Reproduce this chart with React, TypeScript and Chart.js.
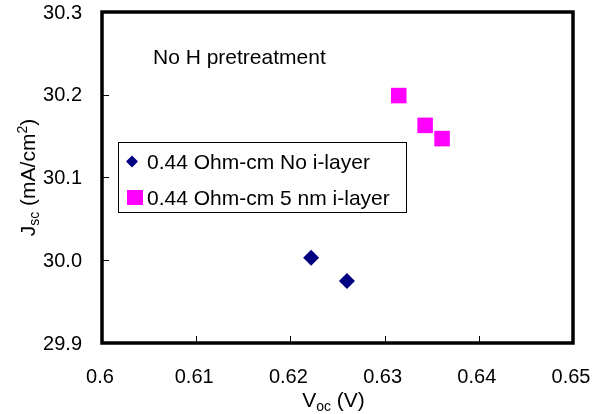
import { useEffect, useRef } from "react";
import { Chart, registerables } from "chart.js";

Chart.register(...registerables);

const seriesNames = ["0.44 Ohm-cm No i-layer", "0.44 Ohm-cm 5 nm i-layer"];
const noILayerVoc = [0.6222, 0.626];
const noILayerJsc = [30.003, 29.975];
const iLayerVoc = [0.6315, 0.6343, 0.6361];
const iLayerJsc = [30.199, 30.163, 30.147];
const xTicks = [0.6, 0.61, 0.62, 0.63, 0.64, 0.65];
const xTickLabels = ["0.6", "0.61", "0.62", "0.63", "0.64", "0.65"];
const yTicks = [29.9, 30.0, 30.1, 30.2, 30.3];
const yTickLabels = ["29.9", "30.0", "30.1", "30.2", "30.3"];
const annotationText = "No H pretreatment";

const FONT = '"Liberation Sans", Arial, sans-serif';
const NAVY = "#000080";
const MAGENTA = "#FF00FF";

function drawDiamond(ctx: CanvasRenderingContext2D, x: number, y: number, r: number, color: string) {
  ctx.beginPath();
  ctx.moveTo(x, y - r);
  ctx.lineTo(x + r, y);
  ctx.lineTo(x, y + r);
  ctx.lineTo(x - r, y);
  ctx.closePath();
  ctx.fillStyle = color;
  ctx.fill();
}

const decorPlugin = {
  id: "decor",
  afterDraw(chart: any) {
    const { ctx, chartArea: a, scales } = chart;
    const xs = scales.x;
    const ys = scales.y;
    ctx.save();
    // tick marks (inward)
    ctx.strokeStyle = "#000";
    ctx.lineWidth = 1;
    ctx.beginPath();
    yTicks.forEach((v) => {
      const py = Math.round(ys.getPixelForValue(v)) + 0.5;
      ctx.moveTo(a.left, py);
      ctx.lineTo(a.left + 7, py);
    });
    xTicks.forEach((v) => {
      const px = Math.round(xs.getPixelForValue(v)) + 0.5;
      ctx.moveTo(px, a.bottom);
      ctx.lineTo(px, a.bottom - 7);
    });
    ctx.stroke();
    // frame
    ctx.lineWidth = 3.5;
    ctx.strokeRect(a.left, a.top, a.right - a.left, a.bottom - a.top);

    // tick labels
    ctx.fillStyle = "#000";
    ctx.font = `20px ${FONT}`;
    ctx.textAlign = "right";
    ctx.textBaseline = "middle";
    yTicks.forEach((v, i) => {
      ctx.fillText(yTickLabels[i], a.left - 20, ys.getPixelForValue(v) + 1);
    });
    ctx.textAlign = "center";
    ctx.textBaseline = "alphabetic";
    xTicks.forEach((v, i) => {
      ctx.fillText(xTickLabels[i], xs.getPixelForValue(v) - 2, a.bottom + 40);
    });

    // annotation
    ctx.textAlign = "left";
    ctx.font = `21px ${FONT}`;
    ctx.fillText(annotationText, a.left + 51, a.top + 51.5);

    // legend box
    const bx = a.left + 16;
    const by = a.top + 130;
    const bw = 288;
    const bh = 70;
    ctx.fillStyle = "#fff";
    ctx.fillRect(bx, by, bw, bh);
    ctx.lineWidth = 1;
    ctx.strokeStyle = "#000";
    ctx.strokeRect(bx + 0.5, by + 0.5, bw, bh);
    drawDiamond(ctx, bx + 14, by + 19.5, 6, NAVY);
    ctx.fillStyle = MAGENTA;
    ctx.fillRect(bx + 9, by + 48, 16, 15);
    ctx.fillStyle = "#000";
    ctx.font = `21px ${FONT}`;
    ctx.fillText(seriesNames[0], bx + 29, by + 26.5);
    ctx.fillText(seriesNames[1], bx + 29, by + 62.5);

    // x title: V_oc (V)
    const big = `21px ${FONT}`;
    const small = `14px ${FONT}`;
    ctx.font = big;
    const wV = ctx.measureText("V").width;
    const wRest = ctx.measureText(" (V)").width;
    ctx.font = small;
    const wOc = ctx.measureText("oc").width;
    const totalX = wV + wOc + wRest;
    const cx = (a.left + a.right) / 2 - 4;
    let sx = cx - totalX / 2;
    const baseX = 407;
    ctx.font = big;
    ctx.fillText("V", sx, baseX);
    sx += wV;
    ctx.font = small;
    ctx.fillText("oc", sx, baseX + 4);
    sx += wOc;
    ctx.font = big;
    ctx.fillText(" (V)", sx, baseX);

    // y title: J_sc (mA/cm^2)
    ctx.translate(27, (a.top + a.bottom) / 2);
    ctx.rotate(-Math.PI / 2);
    ctx.font = big;
    const wJ = ctx.measureText("J").width;
    const wMid = ctx.measureText(" (mA/cm").width;
    const wClose = ctx.measureText(")").width;
    ctx.font = small;
    const wSc = ctx.measureText("sc").width;
    const w2 = ctx.measureText("2").width;
    const totalY = wJ + wSc + wMid + w2 + wClose;
    let ty = -totalY / 2;
    const baseY = 7.5;
    ctx.font = big;
    ctx.fillText("J", ty, baseY);
    ty += wJ;
    ctx.font = small;
    ctx.fillText("sc", ty, baseY + 4);
    ty += wSc;
    ctx.font = big;
    ctx.fillText(" (mA/cm", ty, baseY);
    ty += wMid;
    ctx.font = small;
    ctx.fillText("2", ty, baseY - 8);
    ty += w2;
    ctx.font = big;
    ctx.fillText(")", ty, baseY);
    ctx.restore();
  },
};

export default function App() {
  const ref = useRef<HTMLCanvasElement | null>(null);
  useEffect(() => {
    document.body.style.margin = "0";
    const canvas = ref.current;
    if (!canvas) return;
    const chart = new Chart(canvas, {
      type: "scatter",
      data: {
        datasets: [
          {
            label: seriesNames[0],
            data: noILayerVoc.map((v, i) => ({ x: v, y: noILayerJsc[i] })),
            pointStyle: "rectRot",
            pointRadius: 8,
            pointHoverRadius: 8,
            backgroundColor: NAVY,
            borderColor: NAVY,
            borderWidth: 0,
          },
          {
            label: seriesNames[1],
            data: iLayerVoc.map((v, i) => ({ x: v, y: iLayerJsc[i] })),
            pointStyle: "rect",
            pointRadius: 11,
            pointHoverRadius: 11,
            backgroundColor: MAGENTA,
            borderColor: MAGENTA,
            borderWidth: 0,
          },
        ],
      },
      options: {
        animation: false,
        responsive: false,
        devicePixelRatio: 1,
        layout: { padding: { top: 12, right: 30, left: 0, bottom: 0 } },
        plugins: {
          legend: { display: false },
          tooltip: { enabled: false },
        },
        scales: {
          x: {
            type: "linear",
            min: 0.6,
            max: 0.65,
            grid: { display: false, drawTicks: false },
            border: { display: false },
            ticks: { display: false },
            afterBuildTicks: (scale: any) => {
              scale.ticks = xTicks.map((v) => ({ value: v }));
            },
            afterFit: (scale: any) => {
              scale.height = 71;
            },
          },
          y: {
            type: "linear",
            min: 29.9,
            max: 30.3,
            grid: { display: false, drawTicks: false },
            border: { display: false },
            ticks: { display: false },
            afterBuildTicks: (scale: any) => {
              scale.ticks = yTicks.map((v) => ({ value: v }));
            },
            afterFit: (scale: any) => {
              scale.width = 102;
            },
          },
        },
      },
      plugins: [decorPlugin],
    } as any);
    return () => chart.destroy();
  }, []);
  return (
    <div style={{ position: "absolute", left: 0, top: 0, width: 603, height: 414, background: "#fff" }}>
      <canvas ref={ref} width={603} height={414} style={{ width: 603, height: 414, display: "block" }} />
    </div>
  );
}
